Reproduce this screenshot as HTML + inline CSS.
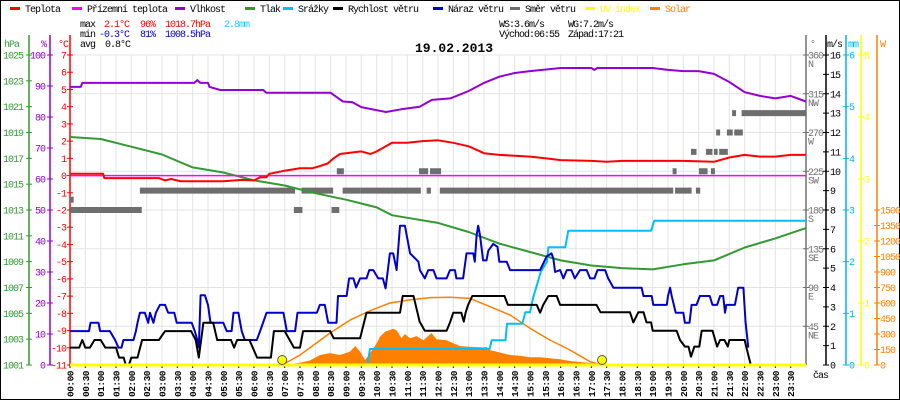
<!DOCTYPE html>
<html><head><meta charset="utf-8">
<style>
html,body{margin:0;padding:0;background:#fff;}
svg{display:block;font-family:"Liberation Mono",monospace;}
</style></head>
<body>
<svg id="c" width="900" height="400" viewBox="0 0 900 400" xmlns="http://www.w3.org/2000/svg">
<rect x="0.5" y="0.5" width="899" height="399" fill="#fff" stroke="#000"/>
<g id="grid"></g>
<g id="axes"></g>
<g id="series"></g>
<g id="legend" font-size="10" letter-spacing="-1">
</g>
<g font-size="10" letter-spacing="-1">
<text x="80" y="27" fill="#000">max</text>
<text x="104" y="27" fill="#f00">2.1°C</text>
<text x="140" y="27" fill="#f00">96%</text>
<text x="165" y="27" fill="#f00">1018.7hPa</text>
<text x="224" y="27" fill="#1ec8ff">2.8mm</text>
<text x="80" y="37" fill="#000">min</text>
<text x="99" y="37" fill="#0000cc">-0.3°C</text>
<text x="140" y="37" fill="#0000cc">81%</text>
<text x="165" y="37" fill="#0000cc">1008.5hPa</text>
<text x="80" y="47" fill="#000">avg</text>
<text x="105" y="47" fill="#000">0.8°C</text>
<text x="499" y="27" fill="#000">WS:3.6m/s</text>
<text x="568" y="27" fill="#000">WG:7.2m/s</text>
<text x="499" y="37" fill="#000">Východ:06:55</text>
<text x="568" y="37" fill="#000">Západ:17:21</text>
</g>
<text x="415" y="52" font-size="13" font-weight="bold" fill="#000">19.02.2013</text>
</svg>
<script>
// ---- data ----
const tempT=[0,1.08,1.12,2.9,3.1,3.3,3.6,5.0,5.6,6.0,6.2,6.4,6.5,7.0,7.5,7.9,8.15,8.4,8.6,8.8,9.5,9.8,10,10.5,11,11.5,12,12.5,13,13.5,14,15,15.5,16,17,17.5,18,19,20,21,21.5,22,22.5,23,23.5,24];
const tempV=[0.1,0.1,-0.15,-0.15,-0.28,-0.2,-0.33,-0.33,-0.25,-0.28,-0.1,-0.1,0.1,0.28,0.42,0.42,0.55,0.7,1.0,1.25,1.4,1.25,1.4,1.9,1.9,2.0,2.05,1.9,1.7,1.3,1.2,1.1,1.0,0.9,0.85,0.8,0.85,0.85,0.85,0.8,1.05,1.2,1.1,1.1,1.2,1.2];
const feelT=[0,24];
const feelV=[0,0];
const humT=[0,0.35,0.4,4.05,4.15,4.25,4.5,4.55,4.9,6.3,6.4,8.5,8.7,8.9,9.2,9.5,10.3,10.8,11.4,11.8,12.4,13.0,13.5,14.0,14.5,15.0,16.0,17.0,17.1,17.2,18.0,19.0,19.5,20.0,20.5,21.0,21.5,22.0,22.5,23.0,23.5,24];
const humV=[89.7,89.7,91,91,91.9,91,91,89.7,88.7,88.7,87.8,87.8,86.4,85,84.8,83.2,81.6,82.5,83.3,85.5,86,88.4,91,93,94.2,94.8,95.8,95.8,95.2,95.8,95.8,95.8,95.2,94.8,94.8,93.9,91.3,88,86.8,86,86.8,85];
const presT=[0,1,2,3,4,5,6,7,8,9,9.5,10,10.5,11,12,13,14,15,16,17,18,19,20,21,22,23,23.5,24];
const presV=[1018.65,1018.5,1017.9,1017.3,1016.3,1015.9,1015.3,1014.9,1014.3,1013.8,1013.5,1013.2,1012.6,1012.4,1012,1011.3,1010.4,1009.75,1009.1,1008.7,1008.5,1008.4,1008.8,1009.1,1010.1,1010.8,1011.2,1011.6];
const rainT=[0,9.7,9.78,13.68,13.75,14.2,14.25,14.75,14.85,15.0,15.1,15.25,15.35,15.55,15.6,16.15,16.25,18.95,19.05,24];
const rainV=[0,0,0.31,0.31,0.48,0.48,0.8,0.8,1.02,1.02,1.3,1.6,1.8,2.0,2.28,2.28,2.6,2.6,2.79,2.79];
const windT=[0,0.3,0.4,0.5,0.65,0.8,1.0,1.15,1.5,1.6,1.75,1.82,1.92,2.0,2.2,2.35,2.9,3.1,3.95,4.1,4.2,4.35,4.67,4.8,5.25,5.35,5.45,5.85,6.1,6.55,6.65,7.0,7.3,7.5,7.6,8.48,8.6,9.46,9.67,10.76,10.85,11.2,11.33,11.4,11.57,12.28,12.4,12.5,12.76,12.84,12.9,12.98,13.12,14.17,14.28,15.22,15.33,15.43,15.6,15.87,15.98,17.17,17.3,18.26,18.37,18.53,18.7,18.8,18.95,19.0,19.78,19.89,20.05,20.17,20.25,20.36,20.52,20.6,20.95,21.1,21.2,21.34,21.45,21.5,22.0,22.05,22.2];
const windV=[0.9,0.9,1.29,0.9,0.9,1.29,1.29,0.9,0.9,0.38,0.38,0,0,0.38,0.38,1.29,1.29,1.75,1.75,1.29,0.38,2.18,2.18,1.29,1.29,0.9,1.29,1.29,0.38,0.38,1.75,1.75,0.9,0.9,1.75,1.75,1.38,1.38,2.7,2.7,3.56,3.56,2.7,2.24,1.77,1.77,2.24,2.7,2.7,2.24,2.7,3.1,3.56,3.56,3.1,3.1,2.7,3.1,3.56,3.56,3.1,3.1,2.72,2.72,2.2,2.72,2.72,2.2,2.2,1.77,1.77,1.29,0.95,0.95,0.43,0.95,0.95,1.77,1.77,0.95,1.29,1.29,0.95,1.29,1.29,0.95,0];
const gustT=[0,0.62,0.67,0.93,0.98,1.3,1.47,1.58,1.68,1.74,2.07,2.15,2.2,2.28,2.44,2.55,2.61,2.72,2.8,2.93,3.1,3.2,3.4,3.48,3.97,4.07,4.15,4.2,4.26,4.4,4.5,4.58,5.0,5.11,5.27,5.33,5.49,5.6,5.7,6.09,6.2,6.41,6.96,7.07,7.34,7.42,8.05,8.15,8.31,8.42,8.69,8.74,9.02,9.1,9.24,9.33,9.46,9.67,9.76,9.89,10.05,10.2,10.29,10.43,10.54,10.65,10.76,10.92,11.09,11.36,11.41,11.57,11.68,11.85,11.95,12.28,12.39,12.55,12.6,12.82,12.93,13.15,13.2,13.26,13.31,13.37,13.47,13.58,13.64,13.8,13.94,14.0,14.24,14.35,15.33,15.54,15.7,15.76,15.82,15.98,16.09,16.2,16.35,16.46,16.63,16.85,16.96,17.1,17.2,17.45,17.55,17.72,18.64,18.7,18.97,19.02,19.46,19.5,19.57,19.62,19.75,20.0,20.05,20.2,20.27,20.43,20.54,20.86,20.95,21.1,21.2,21.3,21.36,21.4,21.68,21.79,21.96,22.03,22.12];
const gustV=[1.75,1.75,2.18,2.18,1.75,1.75,1.29,0.9,0.9,1.29,1.29,1.75,2.18,2.7,2.7,2.18,2.7,2.18,2.7,3.1,3.1,2.7,2.7,2.18,2.18,1.75,1.29,0.9,3.6,3.6,3.1,2.18,2.18,1.75,1.75,2.7,2.7,1.75,1.29,1.29,1.75,2.7,2.7,1.75,1.75,2.7,2.7,3.1,3.1,2.18,2.18,3.56,3.56,4.47,4.47,4.0,4.47,4.47,4.9,4.9,4.47,4.47,3.96,5.76,5.76,4.9,7.19,7.19,5.76,5.33,4.9,4.47,4.9,4.9,4.47,4.47,4.9,4.9,4.47,4.47,5.76,5.76,5.33,6.7,7.19,6.7,5.4,5.4,5.9,6.25,6.1,5.33,5.33,4.9,4.9,5.6,5.76,5.5,4.8,4.9,4.47,4.9,4.9,4.47,4.9,4.9,4.47,4.47,4.9,4.9,4.47,3.99,3.99,3.56,3.56,3.1,3.1,3.56,3.99,3.56,2.7,2.7,2.18,2.18,3.1,3.1,3.56,3.56,3.1,3.1,3.56,3.56,2.7,3.1,3.1,3.99,3.99,2.18,0.9];
const dirStart=[0,0,2.28,7.3,7.55,8.53,8.7,8.89,9.46,11.38,11.63,11.74,12.06,19.65,19.73,20.25,20.41,20.51,20.74,20.9,21.0,21.07,21.17,21.42,21.59,21.66,21.9];
const dirEnd=[0.12,2.34,7.34,7.58,8.58,8.78,8.93,9.46,11.44,11.68,11.77,12.1,19.67,19.78,20.27,20.43,20.55,20.79,20.95,21.03,21.12,21.2,21.45,21.61,21.72,21.94,24];
const dirDeg=[192,180,202.5,180,202.5,180,225,202.5,202.5,225,202.5,225,202.5,225,202.5,247.5,202.5,225,247.5,225,247.5,270,247.5,270,292.5,270,292.5];
const solT=[6.95,7.5,7.83,8.15,8.48,8.8,9.13,9.3,9.46,9.62,9.78,10.0,10.11,10.27,10.54,10.65,10.81,10.92,11.09,11.3,11.52,11.79,11.95,12.28,12.5,12.71,13.04,13.47,13.58,13.69,14.0,14.35,14.67,15.0,15.33,15.65,15.98,16.3,16.63,16.96,17.28,17.39];
const solV=[0,22,45,97,115,97,130,184,130,48,112,210,274,320,350,335,260,300,258,280,240,310,250,240,210,184,177,170,177,145,122,97,90,75,75,65,55,39,29,20,6,0];
const sunT=[6.92,7.5,8.48,9.13,9.78,10.43,11.09,11.74,12.39,13.04,13.69,14.35,15.0,15.65,16.3,16.96,17.35];
const sunV=[0,97,310,435,525,600,630,652,655,645,565,484,355,242,145,32,0];
const sunEvents=[6.92,17.35];
const uvT=[0,24];
const uvV=[0,0];
const hpaTicks=[1025,1023,1021,1019,1017,1015,1013,1011,1009,1007,1005,1003,1001];
const humTicks=[100,90,80,70,60,50,40,30,20,10,0];
const tempTicks=[7,6,5,4,3,2,1,0,-1,-2,-3,-4,-5,-6,-7,-8,-9,-10,-11];
const dirTicks=[360,315,270,225,180,135,90,45];
const dirNames=["N","NW","W","SW","S","SE","E","NE"];
const msTicks=[16,15,14,13,12,11,10,9,8,7,6,5,4,3,2,1,0];
const mmTicks=[6,5,4,3,2,1,0];
const uvTicks=[5,4,3,2,1,0];
const wTicks=[1500,1350,1200,1050,900,750,600,450,300,150,0];
const timeLabels=["00:00","00:30","01:00","01:30","02:00","02:30","03:00","03:30","04:00","04:30","05:00","05:30","06:00","06:30","07:00","07:30","08:00","08:30","09:00","09:30","10:00","10:30","11:00","11:30","12:00","12:30","13:00","13:30","14:00","14:30","15:00","15:30","16:00","16:30","17:00","17:30","18:00","18:30","19:00","19:30","20:00","20:30","21:00","21:30","22:00","22:30","23:00","23:30"];
const legendNames=["Teplota","Přízemní teplota","Vlhkost","Tlak","Srážky","Rychlost větru","Náraz větru","Směr větru","UV index","Solar"];
const legendColors=["#ff0000","#ff00ff","#9400d3","#339933","#00bfff","#000000","#0000cc","#707070","#ffff00","#ff8000"];
const legendX=[10,72,175,245,283,333,433,510,585,650];

// ---- scales ----
const X0=70,X1=806,Y0=55,Y1=365;
const xT=t=>X0+t*(X1-X0)/24;
const yTemp=v=>Y0+(7-v)*(Y1-Y0)/18;
const yHum=v=>Y1-v*(Y1-Y0)/100;
const yP=v=>Y0+(1025-v)*(Y1-Y0)/24;
const yDir=v=>Y1-v*(Y1-Y0)/360;
const yWind=v=>Y1-v*(Y1-Y0)/16;
const yRain=v=>Y1-v*(Y1-Y0)/6;
const yUV=v=>Y1-v*(Y1-Y0)/5;
const ySol=v=>Y1-v*155/1500;

const NS="http://www.w3.org/2000/svg";
function mk(tag,attrs,parent){const e=document.createElementNS(NS,tag);for(const k in attrs)e.setAttribute(k,attrs[k]);parent.appendChild(e);return e;}
const grid=document.getElementById('grid'),axes=document.getElementById('axes'),series=document.getElementById('series'),legend=document.getElementById('legend');

// grid
for(let i=0;i<=48;i++){const x=xT(i/2);const l=mk('line',{x1:x,x2:x,y1:Y0,y2:Y1,stroke:'#e4e4e4','stroke-width':1},grid);

}
for(let i=0;i<=8;i++){const y=yDir(i*45);const l=mk('line',{x1:X0,x2:X1,y1:y,y2:y,stroke:'#e4e4e4','stroke-width':1},grid);

}

// axes
function axis(x,color,ticks,yf,labelX,anchor,name,fs){
  const a=mk('line',{x1:x,x2:x,y1:Y0-20,y2:Y1,stroke:color,'stroke-width':1.5},axes);
  
  
  ticks.forEach(v=>{const y=yf(v);
    mk('line',{x1:x-3,x2:x+3,y1:y,y2:y,stroke:color},axes);
    const t=mk('text',{x:labelX,y:y+3.5,fill:color,'font-size':fs||10,'letter-spacing':-1,'text-anchor':anchor},axes);
    t.textContent=v;
    
    
  });
}
axis(29,'#339933',hpaTicks,yP,23,'end','pressure');
axis(50,'#9400d3',humTicks,yHum,45,'end','humidity');
axis(70,'#ff0000',tempTicks,yTemp,66,'end','temperature');
axis(806,'#707070',[],yDir,0,'start','direction');
dirTicks.forEach((v,i)=>{const y=yDir(v);
  mk('line',{x1:803,x2:809,y1:y,y2:y,stroke:'#707070'},axes);
  const t=mk('text',{x:808,y:y+3.5,fill:'#707070','font-size':10,'letter-spacing':-1},axes);
  t.textContent=v;
  
  
  const n=mk('text',{x:808,y:y+12,fill:'#707070','font-size':10,'letter-spacing':-1},axes);
  n.textContent=dirNames[i];
  
  
});
axis(826,'#000000',msTicks,yWind,830,'start','wind-speed');
axis(846,'#00b4f0',mmTicks,yRain,849,'start','rain');
axis(861,'#ffff00',uvTicks,yUV,864,'start','uv');
axis(877,'#ff8000',wTicks,ySol,880,'start','solar');
const unitLabels=[["hPa",4,'#339933'],["%",41,'#9400d3'],["°C",58,'#ff0000'],["°",810,'#707070'],["m/s",827,'#000'],["mm",848,'#00b4f0'],["W",880,'#ff8000']];
unitLabels.forEach(u=>{const t=mk('text',{x:u[1],y:47,fill:u[2],'font-size':10,'letter-spacing':-1},axes);
  t.textContent=u[0];
  
  });
const cas=mk('text',{x:813,y:378,fill:'#000','font-size':10,'letter-spacing':-1},axes);
cas.textContent='čas';


timeLabels.forEach((s,i)=>{const x=xT(i/2)+3.5;
  mk('line',{x1:x-3.5,x2:x-3.5,y1:Y1,y2:Y1+3,stroke:'#000'},axes);
  const t=mk('text',{x:x,y:397,fill:'#000','font-size':9.5,'font-weight':'bold','letter-spacing':-0.5,transform:`rotate(-90 ${x} 397)`},axes);
  t.textContent=s;
  
  });

// series helpers
function pts(T,V,yf){return T.map((t,i)=>xT(t).toFixed(1)+','+yf(V[i]).toFixed(1)).join(' ');}
function line(T,V,yf,color,w,name){const p=mk('polyline',{points:pts(T,V,yf),fill:'none',stroke:color,'stroke-width':w,'stroke-linejoin':'round'},series);
  
  return p;}

// solar area
const area=mk('polygon',{points:xT(solT[0])+','+Y1+' '+pts(solT,solV,ySol)+' '+xT(solT[solT.length-1])+','+Y1,fill:'#ff8000',stroke:'none'},series);


line(sunT,sunV,ySol,'#ff8000',1.5,'solar-theoretical-line');
// direction bars
dirStart.forEach((s,i)=>{const r=mk('rect',{x:xT(s),y:yDir(dirDeg[i])-3,width:Math.max(2,xT(dirEnd[i])-xT(s)),height:6,fill:'#6e6e6e'},series);
  
  });
line(presT,presV,yP,'#339933',2,'pressure-line');
line(feelT,feelV,yTemp,'#ff00ff',1.5,'feels-like-line');
line(humT,humV,yHum,'#9400d3',2,'humidity-line');
line(tempT,tempV,yTemp,'#ff0000',2,'temperature-line');
line(rainT,rainV,yRain,'#00bfff',2,'rain-line');
line(gustT,gustV,yWind,'#0000cc',2,'wind-gust-line');
line(windT,windV,yWind,'#000000',2,'wind-speed-line');
line(uvT,uvV,yUV,'#ffff00',3,'uv-line');
sunEvents.forEach(t=>{const c=mk('circle',{cx:xT(t),cy:Y1-5,r:4.5,fill:'#ffff00',stroke:'#555','stroke-width':1},series);
  
  });

// legend
legendNames.forEach((n,i)=>{const g=mk('g',{},legend);
  
  
  mk('rect',{x:legendX[i],y:7,width:10,height:3,fill:legendColors[i]},g);
  const t=mk('text',{x:legendX[i]+15,y:12,fill:(i>=8?legendColors[i]:'#000')},g);
  t.textContent=n;});
</script>
</body></html>
